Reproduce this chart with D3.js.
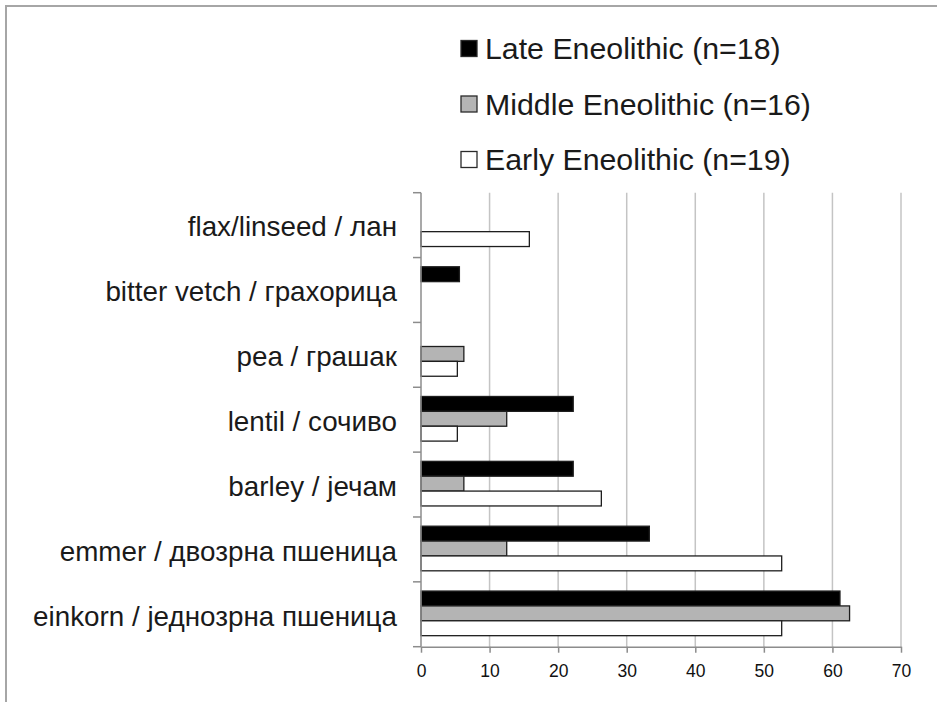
<!DOCTYPE html>
<html>
<head>
<meta charset="utf-8">
<script src="https://cdn.jsdelivr.net/npm/d3@7"></script>
<style>
  html, body { margin: 0; padding: 0; background: #fff; }
  svg { display: block; font-family: "Liberation Sans", Arial, sans-serif; }
</style>
</head>
<body>
<svg id="chart" width="937" height="702"></svg>
<script>
const categories = [
  "flax/linseed / лан",
  "bitter vetch / грахорица",
  "pea / грашак",
  "lentil / сочиво",
  "barley / јечам",
  "emmer / двозрна пшеница",
  "einkorn / једнозрна пшеница"
];
const seriesNames = ["Late Eneolithic (n=18)", "Middle Eneolithic (n=16)", "Early Eneolithic (n=19)"];
const lateValues   = [0, 5.6, 0, 22.2, 22.2, 33.3, 61.1];
const middleValues = [0, 0, 6.25, 12.5, 6.25, 12.5, 62.5];
const earlyValues  = [15.8, 0, 5.3, 5.3, 26.3, 52.6, 52.6];
const xTicks = [0, 10, 20, 30, 40, 50, 60, 70];
const seriesFills = ["#000000", "#b4b4b4", "#ffffff"];

const seriesValues = [lateValues, middleValues, earlyValues];
const svg = d3.select("#chart");

// frame
svg.append("path")
  .attr("d", "M6,702 L6,6 L937,6")
  .attr("fill", "none").attr("stroke", "#a6a6a6").attr("stroke-width", 2);

const plotLeft = 421, plotRight = 901, plotTop = 192.7, plotBottom = 646.7;
const x = d3.scaleLinear().domain([0, 70]).range([plotLeft, plotRight]);
const y = d3.scaleBand().domain(categories).range([plotTop, plotBottom]).padding(0);
const bw = y.bandwidth();
const ySub = d3.scaleBand().domain(seriesNames).range([bw * 0.142, bw * 0.83]).padding(0);

// gridlines
svg.append("g").selectAll("line")
  .data(xTicks.filter(t => t > 0))
  .join("line")
  .attr("x1", d => x(d)).attr("x2", d => x(d))
  .attr("y1", plotTop).attr("y2", plotBottom)
  .attr("stroke", "#c4c4c4").attr("stroke-width", 1.5);

// bars
const rows = [];
seriesNames.forEach((s, si) => {
  categories.forEach((c, ci) => {
    rows.push({ s, si, c, v: seriesValues[si][ci] });
  });
});
svg.append("g").selectAll("rect")
  .data(rows.filter(d => d.v > 0))
  .join("rect")
  .attr("x", x(0))
  .attr("y", d => y(d.c) + ySub(d.s))
  .attr("width", d => x(d.v) - x(0))
  .attr("height", ySub.bandwidth())
  .attr("fill", d => seriesFills[d.si])
  .attr("stroke", "#1e1e1e")
  .attr("stroke-width", 1.3);

// x axis
const xAxis = svg.append("g")
  .attr("transform", `translate(0,${plotBottom})`)
  .call(d3.axisBottom(x).tickValues(xTicks).tickSize(6).tickSizeOuter(0));
xAxis.select(".domain").attr("stroke", "#8c8c8c").attr("stroke-width", 1.5);
xAxis.selectAll(".tick line").attr("stroke", "#8c8c8c").attr("stroke-width", 1.5);
xAxis.selectAll(".tick text")
  .attr("font-size", 17.5).attr("fill", "#111").attr("y", 18)
  .attr("font-family", "Liberation Sans, Arial, sans-serif");

// y axis with boundary ticks
svg.append("line")
  .attr("x1", plotLeft).attr("x2", plotLeft).attr("y1", plotTop).attr("y2", plotBottom)
  .attr("stroke", "#8c8c8c").attr("stroke-width", 1.5);
const boundaries = categories.map(c => y(c)).concat([plotBottom]);
svg.append("g").selectAll("line")
  .data(boundaries)
  .join("line")
  .attr("x1", plotLeft - 8).attr("x2", plotLeft)
  .attr("y1", d => d).attr("y2", d => d)
  .attr("stroke", "#8c8c8c").attr("stroke-width", 1.5);

// category labels
svg.append("g").selectAll("text")
  .data(categories)
  .join("text")
  .attr("x", 397)
  .attr("y", d => y(d) + bw / 2 + 1.5)
  .attr("dy", "0.35em")
  .attr("text-anchor", "end")
  .attr("font-size", 27.8)
  .attr("fill", "#1a1a1a")
  .text(d => d);

// legend
const legendY = d3.scalePoint().domain(seriesNames).range([48.5, 159.5]);
const lg = svg.append("g").selectAll("g")
  .data(seriesNames)
  .join("g")
  .attr("transform", d => `translate(0,${legendY(d)})`);
lg.append("rect")
  .attr("x", 461).attr("y", -8).attr("width", 16).attr("height", 16)
  .attr("fill", (d, i) => seriesFills[i])
  .attr("stroke", "#2a2a2a").attr("stroke-width", 1.3);
lg.append("text")
  .attr("x", 485).attr("y", 0).attr("dy", "0.35em")
  .attr("font-size", 30.3)
  .attr("fill", "#1a1a1a")
  .text(d => d);
</script>
</body>
</html>
